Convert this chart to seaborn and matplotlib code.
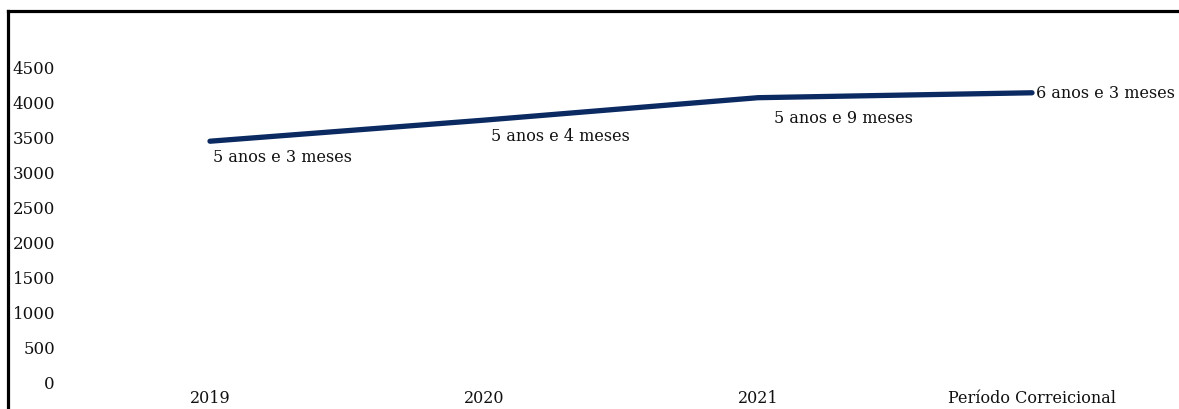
import matplotlib
matplotlib.use("Agg")
import matplotlib.pyplot as plt
from matplotlib.lines import Line2D
import seaborn as sns
import pandas as pd

# Data
periodos = ["2019", "2020", "2021", "Período Correicional"]
valores = [3430, 3730, 4050, 4120]
rotulos = ["5 anos e 3 meses", "5 anos e 4 meses", "5 anos e 9 meses", "6 anos e 3 meses"]
y_ticks = [0, 500, 1000, 1500, 2000, 2500, 3000, 3500, 4000, 4500]

sns.set_style("white")
plt.rcParams["font.family"] = ["DejaVu Serif"]

W, H = 1179, 410
fig = plt.figure(figsize=(W / 100, H / 100), dpi=100)
ax = fig.add_axes([73 / W, 27 / H, 1096 / W, 351 / H])

df = pd.DataFrame({"periodo": periodos, "valor": valores})
sns.lineplot(data=df, x="periodo", y="valor", sort=False, ax=ax,
             color="#0b2a62", linewidth=3.8, solid_capstyle="round")

ax.set_xlim(-0.5, len(periodos) - 0.5)
ax.set_ylim(0, 5000)
ax.set_yticks(y_ticks)
ax.set_yticklabels([str(t) for t in y_ticks])
ax.set_xlabel("")
ax.set_ylabel("")
ax.tick_params(axis="y", length=0, pad=13, labelsize=12, colors="#111111")
ax.tick_params(axis="x", length=0, pad=5, labelsize=11.5, colors="#111111")
for s in ax.spines.values():
    s.set_visible(False)
ax.grid(False)

# Data labels (offsets in pixels from each point)
offsets = [(3, -15), (7, -15), (16, -20), (4, 0)]
for i, (v, r) in enumerate(zip(valores, rotulos)):
    ax.annotate(r, (i, v), xytext=offsets[i], textcoords="offset pixels",
                ha="left", va="center", fontsize=11.5, color="#111111")

# Outer frame (left and top edges)
fig.add_artist(Line2D([8 / W, 8 / W], [0, (H - 12) / H], transform=fig.transFigure,
                      color="black", linewidth=2.3, solid_capstyle="projecting"))
fig.add_artist(Line2D([8 / W, 1.0], [(H - 12) / H, (H - 12) / H], transform=fig.transFigure,
                      color="black", linewidth=2.3, solid_capstyle="projecting"))

fig.savefig("out.png", dpi=100)
